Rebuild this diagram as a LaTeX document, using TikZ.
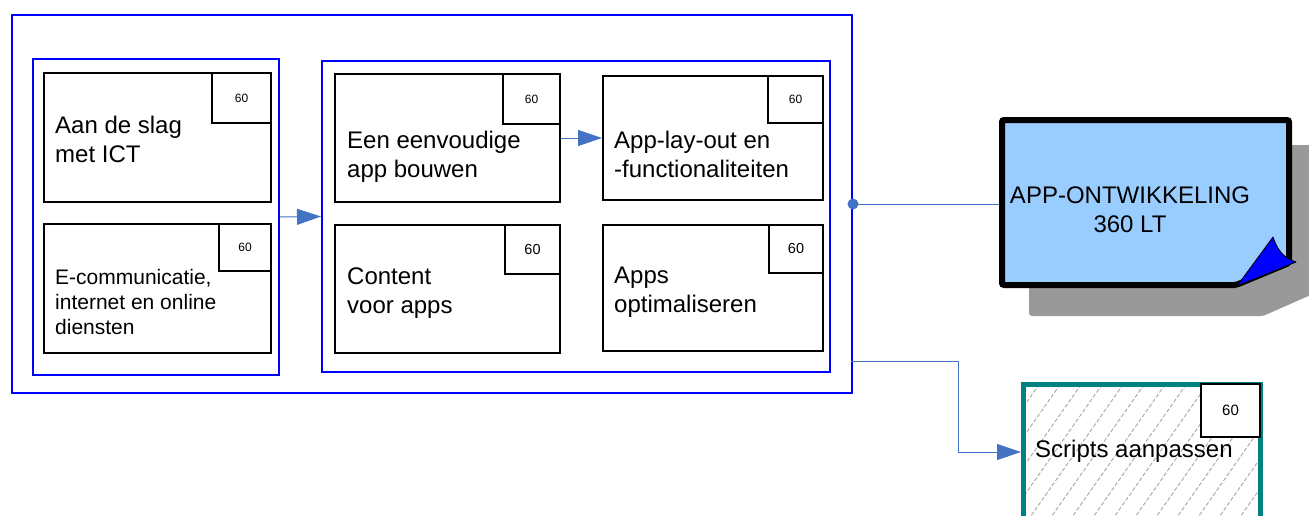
\documentclass[tikz,border=0pt]{standalone}
\usepackage{fontspec}
\setmainfont{Liberation Sans}
\usetikzlibrary{arrows.meta}
\definecolor{conncol}{HTML}{4472C4}
\definecolor{grpblue}{HTML}{0000FF}
\definecolor{appfill}{HTML}{99CCFF}
\definecolor{shadowgray}{HTML}{999999}
\definecolor{tealcol}{HTML}{008080}
\definecolor{hatchgray}{HTML}{A6A6A6}
\begin{document}
\begin{tikzpicture}[x=1pt,y=-1pt,
  grp/.style={draw=grpblue, line width=2pt, anchor=north west, inner sep=0pt},
  box/.style={draw=black, line width=2pt, fill=white, anchor=north west, inner sep=0pt},
  badge/.style={draw=black, line width=2pt, fill=white, anchor=north east, inner sep=0pt, font=\fontsize{12}{14}\selectfont},
  lbl/.style={anchor=base west, align=left, inner sep=0pt, font=\fontsize{24}{29}\selectfont},
  lblsmall/.style={anchor=base west, align=left, inner sep=0pt, font=\fontsize{21}{25}\selectfont},
  cn/.style={draw=conncol, line width=1pt, -{Triangle[length=24pt,width=16pt]}},
  cnplain/.style={draw=conncol, line width=1pt},
  hatchline/.style={draw=hatchgray, line width=0.9pt, dash pattern=on 4pt off 2pt}
]
\clip (0,0) rectangle (1309,515);
\fill[white] (0,0) rectangle (1309,515);

% groups
\node[grp, minimum width=840pt, minimum height=378pt] (outer) at (11,14) {};
\node[grp, minimum width=246pt, minimum height=316pt] (lgrp) at (32,58) {};
\node[grp, minimum width=508pt, minimum height=311pt] (mgrp) at (321,60) {};

% left group boxes
\node[box, minimum width=227pt, minimum height=129pt] (b1) at (43,72) {};
\node[badge, minimum width=59pt, minimum height=50pt] (b1n) at (b1.north east) {60};
\node[lbl] (b1t) at (55,162) {Aan de slag\\met ICT};

\node[box, minimum width=227pt, minimum height=129pt] (b2) at (43,223) {};
\node[badge, minimum width=52pt, minimum height=47pt] (b2n) at (b2.north east) {60};
\node[lblsmall] (b2t) at (55,334) {E-communicatie,\\internet en online\\diensten};

% middle group boxes
\node[box, minimum width=225pt, minimum height=128pt] (b3) at (334,73) {};
\node[badge, minimum width=57pt, minimum height=50pt] (b3n) at (b3.north east) {60};
\node[lbl] (b3t) at (347,177) {Een eenvoudige\\app bouwen};

\node[box, minimum width=220pt, minimum height=124pt] (b4) at (602,75) {};
\node[badge, minimum width=55pt, minimum height=47pt] (b4n) at (b4.north east) {60};
\node[lbl] (b4t) at (614,177) {App-lay-out en\\-functionaliteiten};

\node[box, minimum width=225pt, minimum height=128pt] (b5) at (334,224) {};
\node[badge, minimum width=55pt, minimum height=49pt, font=\fontsize{14.5}{16}\selectfont] (b5n) at (b5.north east) {60};
\node[lbl] (b5t) at (347,313) {Content\\voor apps};

\node[box, minimum width=220pt, minimum height=126pt] (b6) at (602,224) {};
\node[badge, minimum width=54pt, minimum height=48pt, font=\fontsize{14.5}{16}\selectfont] (b6n) at (b6.north east) {60};
\node[lbl] (b6t) at (614,312) {Apps\\optimaliseren};

% APP-ONTWIKKELING note
\node[minimum width=293pt, minimum height=171pt, anchor=north west, inner sep=0pt, outer sep=0pt] (appdev) at (999,117) {};
\fill[shadowgray, rounded corners=3pt] (1029,145) -- (1322,145) -- (1322,290) -- (1263,316) -- (1029,316) -- cycle;
\draw[black, line width=6pt, fill=appfill, rounded corners=2pt] (1002,120) -- (1289,120) -- (1289,263) -- (1236,285) -- (1002,285) -- cycle;
\draw[black, line width=0.8pt, fill=grpblue, line join=round] (1237,286) -- (1273,237) .. controls (1277,249) and (1283,258) .. (1296,262) -- cycle;
\node[anchor=base, align=center, inner sep=0pt, font=\fontsize{24}{29}\selectfont] (appt) at (1130,232) {APP-ONTWIKKELING\\360 LT};

% Scripts aanpassen
\node[draw=tealcol, line width=5pt, fill=white, anchor=north west, inner sep=0pt, minimum width=237pt, minimum height=200pt] (scripts) at (1021,382) {};
\begin{scope}
  \clip (1026,387) rectangle (1258,515);
  \foreach \i in {-8,...,14} {
    \draw[hatchline] (1000+\i*21,530) -- ++(120,-171);
  }
\end{scope}
\node[badge, minimum width=59pt, minimum height=53pt, font=\fontsize{15}{17}\selectfont] (scn) at (1261,383) {60};
\node[lbl] (sct) at (1035,457) {Scripts aanpassen};

% connectors
\draw[cn] (lgrp.east) -- (mgrp.west);
\draw[cn] (b3.east) -- (b4.west);
\draw[cnplain] (outer.east) -- (outer.east -| appdev.west);
\fill[conncol] (outer.east) circle (5.5pt);
\coordinate (c1) at (851,361);
\coordinate (sin) at (1021,452);
\draw[cn] (c1) -- ++(107,0) |- (sin);
\end{tikzpicture}
\end{document}
